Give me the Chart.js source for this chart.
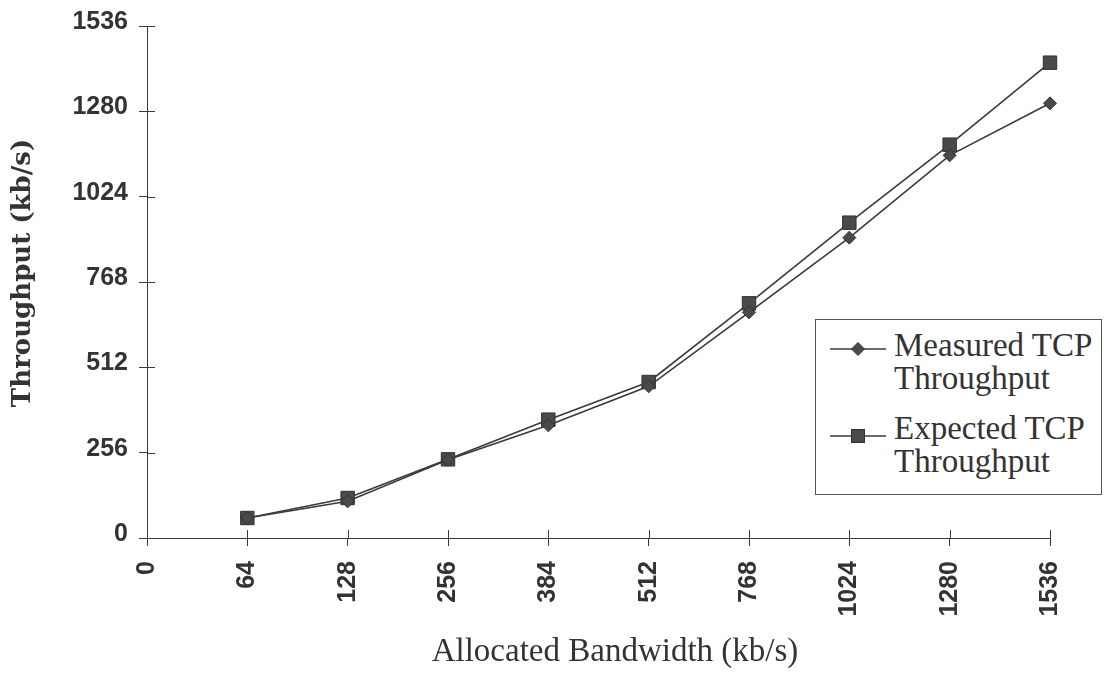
<!DOCTYPE html>
<html>
<head>
<meta charset="utf-8">
<script src="https://cdn.jsdelivr.net/npm/chart.js@4/dist/chart.umd.min.js"></script>
<style>
  html, body { margin: 0; padding: 0; background: #fff; }
  #wrap { position: relative; width: 1104px; height: 673px; }
  #legend { position: absolute; left: 815px; top: 319px; width: 287px; height: 176px;
            border: 1px solid #555; background: #fff; box-sizing: border-box; }
  .entry { position: absolute; left: 0; width: 286px; }
  .entry svg { position: absolute; left: 14px; top: 0; }
  .entry .txt { position: absolute; left: 78px; width: 205px; font-family: "Liberation Serif", serif;
                font-size: 33px; line-height: 33px; color: #333; }
</style>
</head>
<body>
<div id="wrap">
  <canvas id="c" width="1104" height="673"></canvas>
  <div id="legend"></div>
</div>
<script>
// ---- data ----
const categories = ['0', '64', '128', '256', '384', '512', '768', '1024', '1280', '1536'];
const measured   = [null, 60, 110, 235, 338, 455, 677, 901, 1148, 1304];
const expected   = [null, 60, 120, 236, 355, 468, 704, 946, 1180, 1426];
const seriesNames = ['Measured TCP Throughput', 'Expected TCP Throughput'];
const yTicks = [0, 256, 512, 768, 1024, 1280, 1536];
const xTitle = 'Allocated Bandwidth (kb/s)';
const yTitle = 'Throughput (kb/s)';

const ink = '#3a3a3a';
const textCol = '#333';

// inner half of the crossing tick marks
const innerTicks = {
  id: 'innerTicks',
  afterDraw(chart) {
    const ctx = chart.ctx;
    const x = chart.scales.x, y = chart.scales.y;
    ctx.save();
    ctx.strokeStyle = ink;
    ctx.lineWidth = 1;
    ctx.beginPath();
    y.ticks.forEach((t, i) => {
      const py = Math.round(y.getPixelForTick(i)) + 0.5;
      ctx.moveTo(y.right, py); ctx.lineTo(y.right + 8, py);
    });
    x.ticks.forEach((t, i) => {
      const px = Math.round(x.getPixelForTick(i)) + 0.5;
      ctx.moveTo(px, x.top); ctx.lineTo(px, x.top - 8);
    });
    ctx.stroke();
    ctx.restore();
  }
};

new Chart(document.getElementById('c'), {
  type: 'line',
  data: {
    labels: categories,
    datasets: [
      { label: seriesNames[0], data: measured, borderColor: ink, borderWidth: 1.6,
        pointStyle: 'rectRot', pointRadius: 6.5, pointBackgroundColor: '#4a4a4a',
        pointBorderColor: '#333', pointBorderWidth: 1, tension: 0 },
      { label: seriesNames[1], data: expected, borderColor: ink, borderWidth: 1.6,
        pointStyle: 'rect', pointRadius: 9.5, pointBackgroundColor: '#4a4a4a',
        pointBorderColor: '#333', pointBorderWidth: 1, tension: 0 }
    ]
  },
  options: {
    responsive: false,
    animation: false,
    layout: { padding: { top: 24, right: 54, left: 0, bottom: 0 } },
    plugins: { legend: { display: false }, tooltip: { enabled: false } },
    scales: {
      x: {
        type: 'category',
        offset: false,
        afterFit(s) { s.height = 135; },
        grid: { display: true, drawOnChartArea: false, drawTicks: true, tickLength: 8, color: ink, lineWidth: 1 },
        border: { display: true, color: ink, width: 1 },
        ticks: { autoSkip: false, maxRotation: 90, minRotation: 90, padding: 15, color: textCol,
                 font: { family: 'Liberation Sans', weight: 'bold', size: 25 } },
        title: { display: true, text: '\u00a0\u00a0\u00a0\u00a0' + xTitle, color: textCol,
                 font: { family: 'Liberation Serif', size: 33 }, padding: { top: 0, bottom: 1 } }
      },
      y: {
        min: 0, max: 1536,
        afterFit(s) { s.width = 147; },
        afterBuildTicks(s) { s.ticks = yTicks.map(v => ({ value: v })); },
        grid: { display: true, drawOnChartArea: false, drawTicks: true, tickLength: 8, color: ink, lineWidth: 1 },
        border: { display: true, color: ink, width: 1 },
        ticks: { padding: 11, labelOffset: -4, color: textCol,
                 callback: (v) => String(v),
                 font: { family: 'Liberation Sans', weight: 'bold', size: 25 } },
        title: { display: true, text: '\u00a0\u00a0' + yTitle, color: textCol,
                 font: { family: 'DejaVu Serif', weight: 'bold', size: 26 }, padding: { top: 8, bottom: 0 } }
      }
    }
  },
  plugins: [innerTicks]
});

// legend (HTML text)
const legend = document.getElementById('legend');
const entryTops = [9, 92];
const markerY = [20, 24];
seriesNames.forEach((name, i) => {
  const e = document.createElement('div');
  e.className = 'entry';
  e.style.top = entryTops[i] + 'px';
  const my = markerY[i];
  const marker = i === 0
    ? `<polygon points="28,${my-6.5} 34.5,${my} 28,${my+6.5} 21.5,${my}" fill="#4a4a4a" stroke="#333" stroke-width="1"/>`
    : `<rect x="21.5" y="${my-6.5}" width="13" height="13" fill="#4a4a4a" stroke="#333" stroke-width="1"/>`;
  e.innerHTML = `<svg width="60" height="60"><line x1="0" y1="${my}" x2="56" y2="${my}" stroke="${ink}" stroke-width="1.6"/>${marker}</svg><div class="txt">${name}</div>`;
  legend.appendChild(e);
});
</script>
</body>
</html>
